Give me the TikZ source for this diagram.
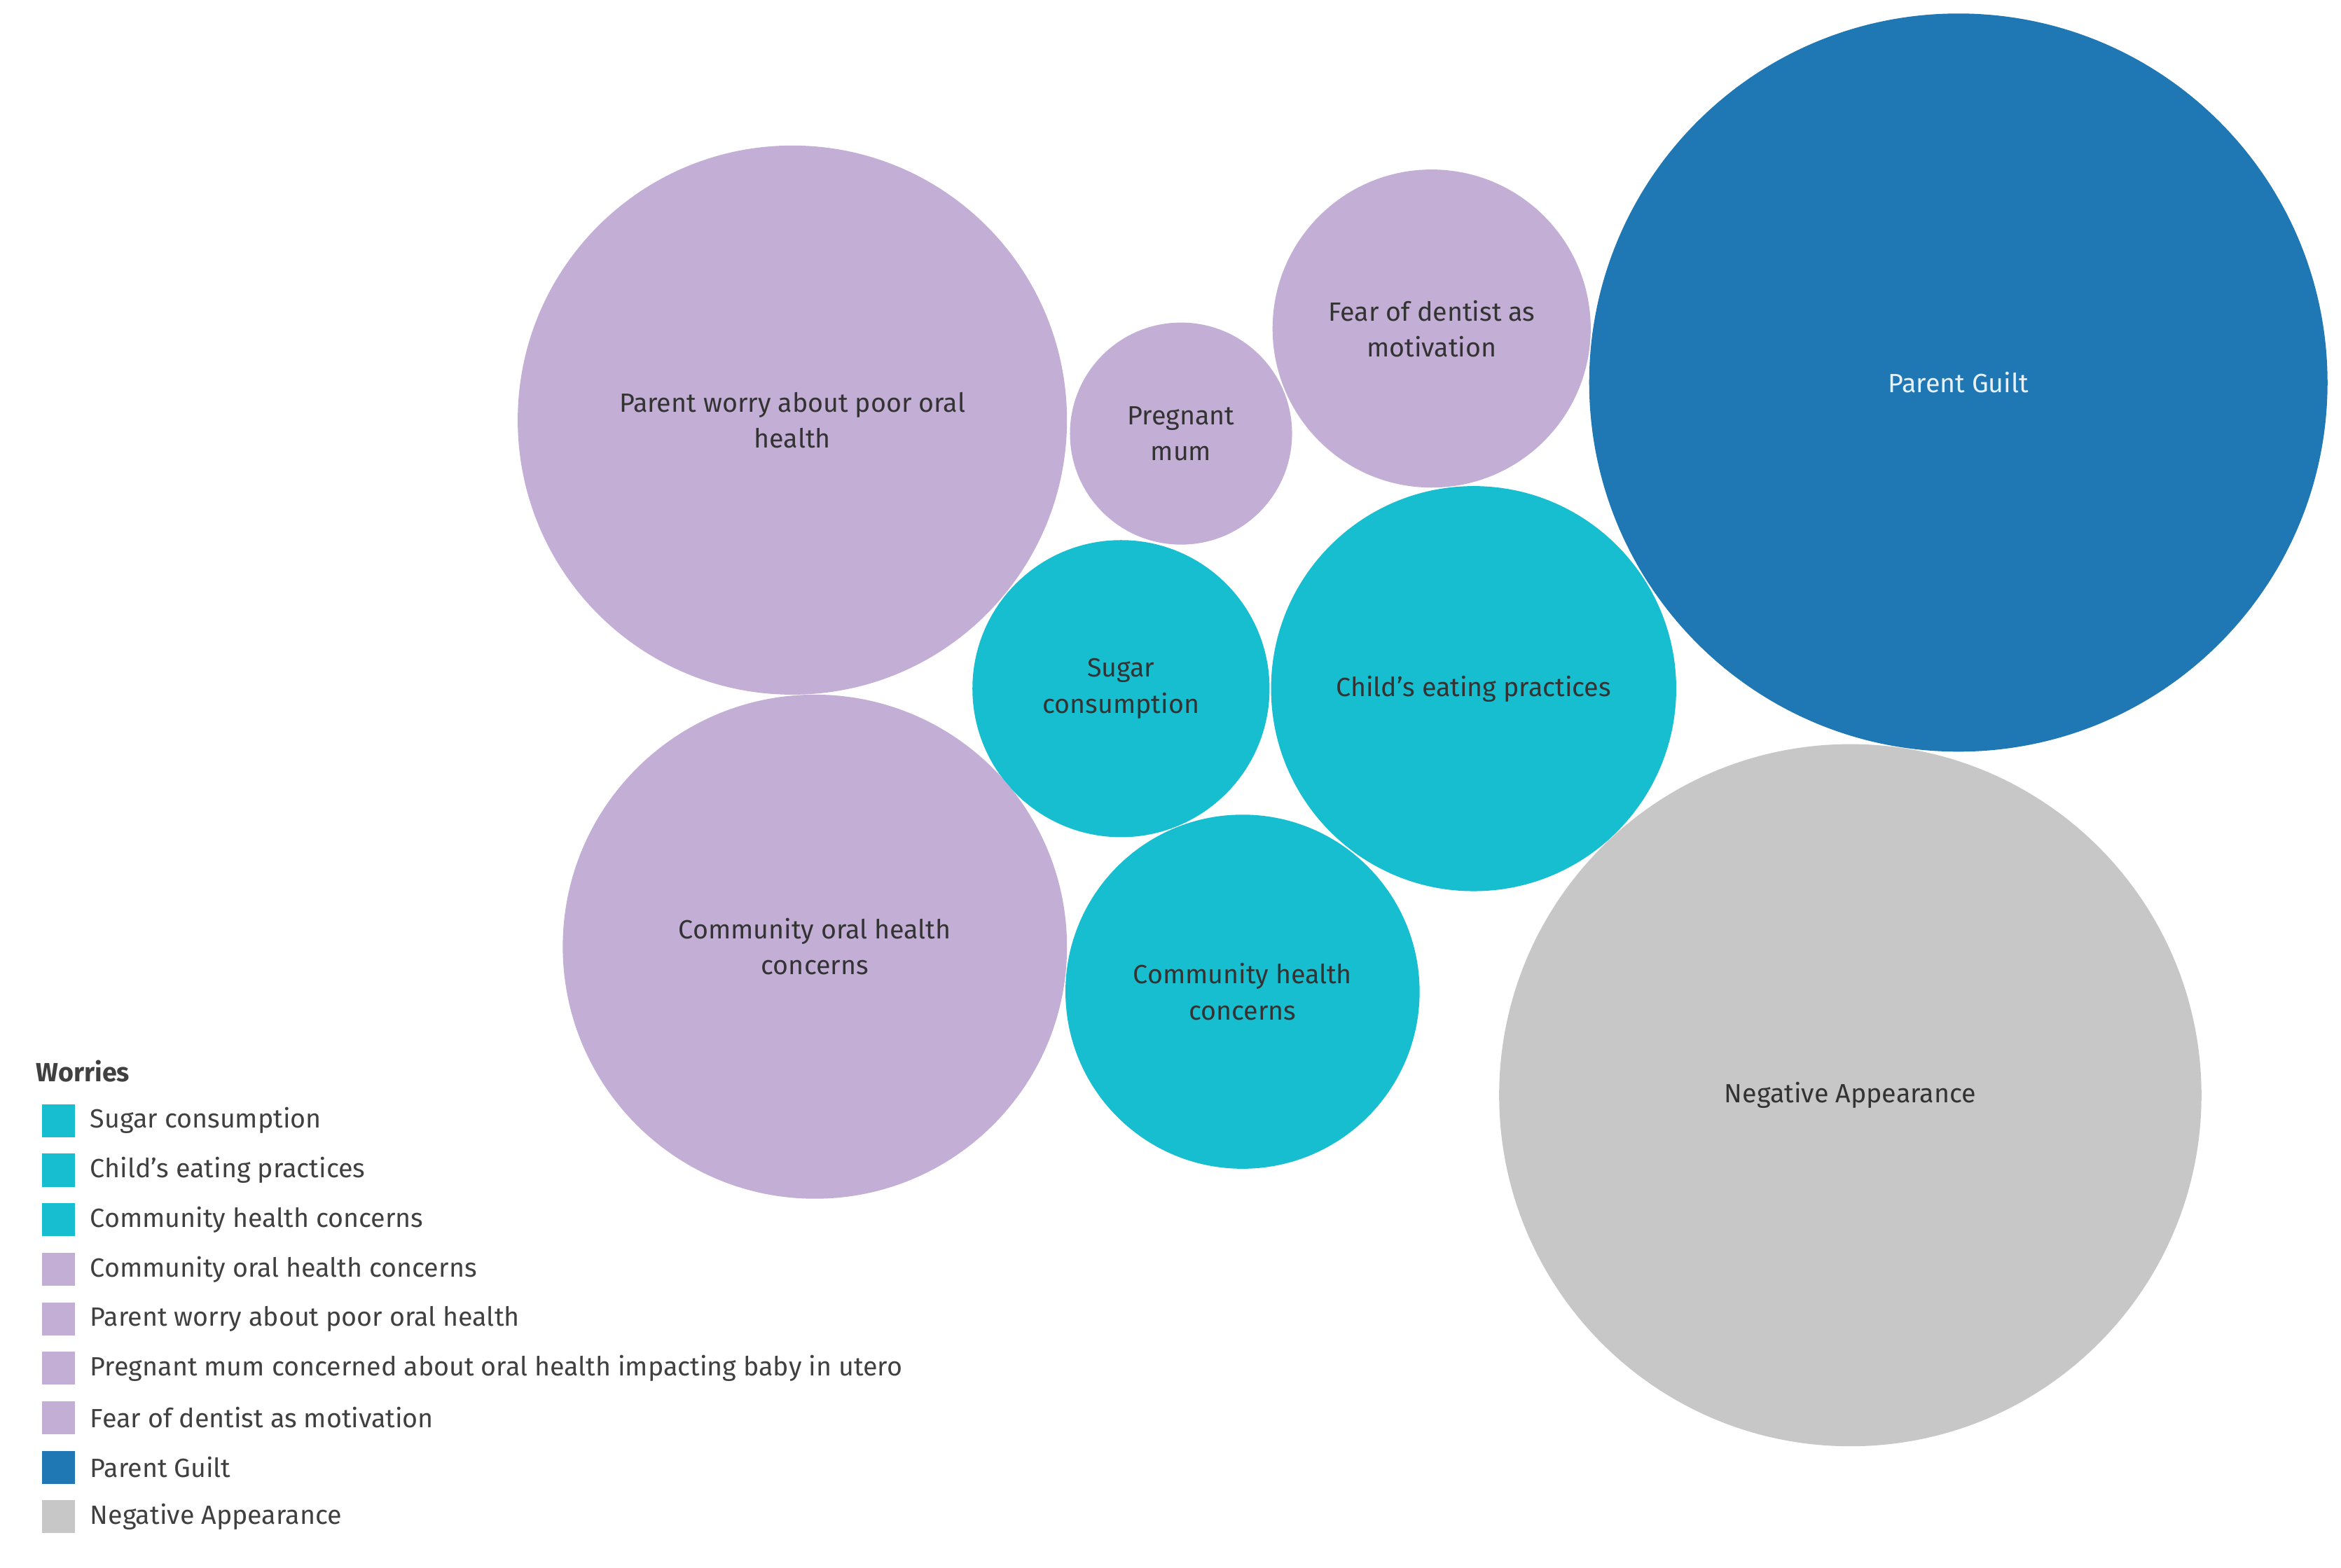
\documentclass[tikz,border=0pt]{standalone}
\usepackage{fontspec}
\setmainfont{Fira Sans}
\begin{document}
\begin{tikzpicture}[x=0.05cm,y=-0.05cm,
 bub/.style={circle,inner sep=0pt,minimum size=#1*0.1cm,align=center,font=\fontsize{25}{34}\selectfont,text=black!80},
 lav/.style={fill=lavender},
 sw/.style={minimum width=1.1cm,minimum height=1.1cm,inner sep=0pt},
 lt/.style={anchor=west,font=\fontsize{25}{30}\selectfont,text=black!75,inner sep=0pt}]
\definecolor{lavender}{HTML}{C3AED6}
\definecolor{tealc}{HTML}{17BECF}
\definecolor{bluec}{HTML}{1F77B4}
\definecolor{grayc}{HTML}{C7C7C7}
\useasboundingbox (0,0) rectangle (1560,1045);
\node[bub=183,fill=lavender] (pw) at (528,280) {Parent worry about poor oral\\health};
\node[bub=74,fill=lavender] (pm) at (787,289) {Pregnant\\mum};
\node[bub=106,fill=lavender] (fd) at (954,219) {Fear of dentist as\\motivation};
\node[bub=246,fill=bluec,text=white!90!bluec] (pg) at (1305,255) {Parent Guilt};
\node[bub=99,fill=tealc] (sc) at (747,459) {Sugar\\consumption};
\node[bub=135,fill=tealc] (ce) at (982,459) {Child’s eating practices};
\node[bub=168,fill=lavender] (co) at (543,631) {Community oral health\\concerns};
\node[bub=118,fill=tealc] (ch) at (828,661) {Community health\\concerns};
\node[bub=234,fill=grayc] (na) at (1233,730) {Negative Appearance};
\node[lt,font=\bfseries\fontsize{25}{30}\selectfont] (title) at (24,714) {Worries};
\foreach \i/\c/\t in {0/tealc/Sugar consumption,1/tealc/Child’s eating practices,2/tealc/Community health concerns,3/lavender/Community oral health concerns,4/lavender/Parent worry about poor oral health,5/lavender/Pregnant mum concerned about oral health impacting baby in utero,6/lavender/Fear of dentist as motivation,7/bluec/Parent Guilt,8/grayc/Negative Appearance}{
 \node[sw,fill=\c] (s\i) at (39,747+33*\i) {};
 \node[lt] (l\i) at (60,747+33*\i) {\t};
}
\end{tikzpicture}
\end{document}
